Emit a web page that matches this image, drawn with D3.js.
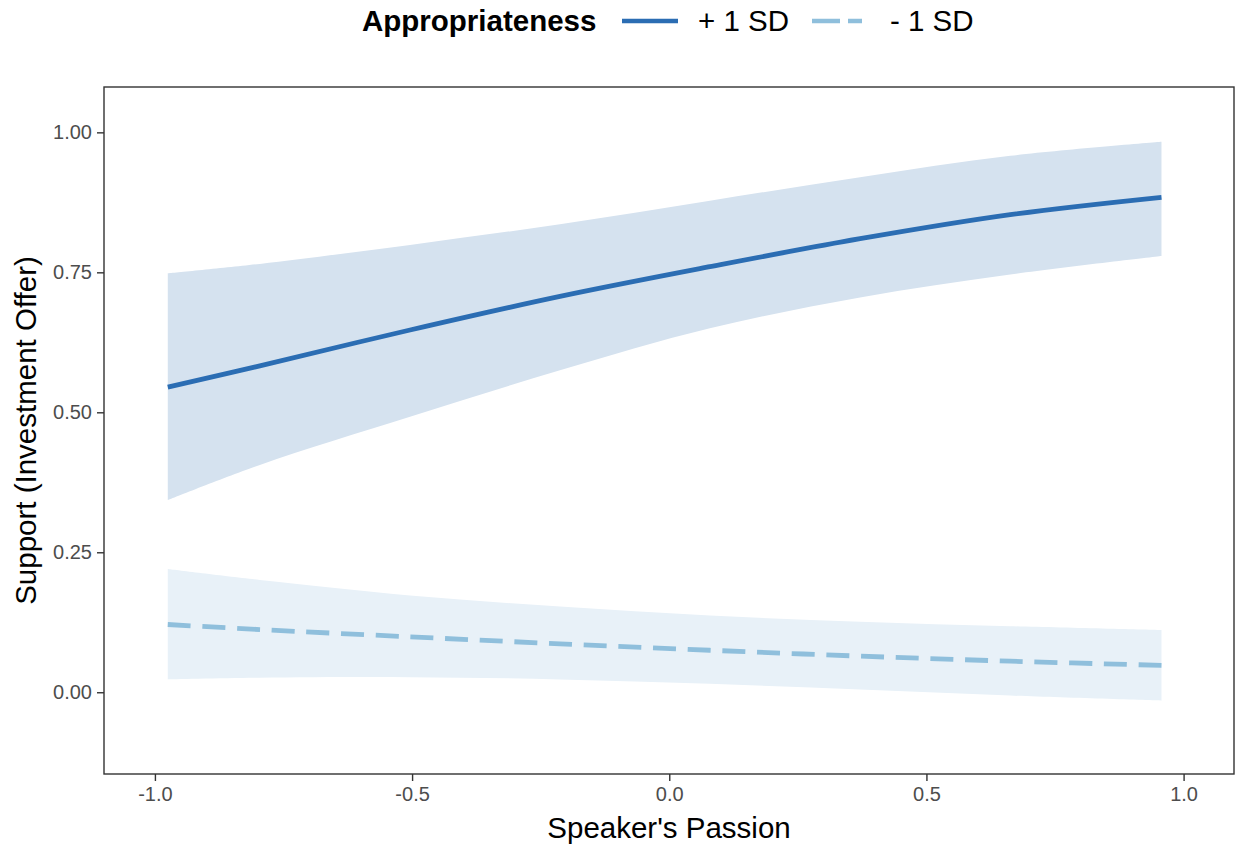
<!DOCTYPE html>
<html>
<head>
<meta charset="utf-8">
<script src="https://cdn.jsdelivr.net/npm/d3@7"></script>
<style>
  html, body { margin: 0; padding: 0; background: #ffffff; }
  svg { display: block; font-family: "Liberation Sans", Arial, sans-serif; }
</style>
</head>
<body>
<svg id="chart" width="1238" height="846"></svg>
<script>
// Speaker's passion values at which predictions were read
const passion = [-0.975, -0.796, -0.504, -0.2125, 0.079, 0.371, 0.663, 0.957];

// + 1 SD appropriateness: predicted support with confidence band
const highFit   = [0.545, 0.583, 0.647, 0.707, 0.760, 0.810, 0.853, 0.884];
const highLower = [0.343, 0.406, 0.492, 0.575, 0.650, 0.705, 0.746, 0.779];
const highUpper = [0.748, 0.765, 0.799, 0.836, 0.878, 0.920, 0.958, 0.983];

// - 1 SD appropriateness: predicted support with confidence band
const lowFit   = [0.121, 0.112, 0.099, 0.0865, 0.075, 0.0645, 0.0555, 0.048];
const lowLower = [0.023, 0.026, 0.027, 0.023, 0.015, 0.005, -0.006, -0.015];
const lowUpper = [0.220, 0.2005, 0.173, 0.153, 0.137, 0.126, 0.118, 0.111];

const xTicks = [-1.0, -0.5, 0.0, 0.5, 1.0];
const yTicks = [0.00, 0.25, 0.50, 0.75, 1.00];

const seriesNames = ["+ 1 SD", "- 1 SD"];
const legendTitle = "Appropriateness";
const xTitle = "Speaker's Passion";
const yTitle = "Support (Investment Offer)";

const svg = d3.select("#chart");
const panel = { left: 104, right: 1234, top: 87, bottom: 774 };

const x = d3.scaleLinear().domain([-1.099, 1.098]).range([panel.left, panel.right]);
const y = d3.scaleLinear().domain([-0.146, 1.081]).range([panel.bottom, panel.top]);

const series = [
  { name: seriesNames[0], fit: highFit, lo: highLower, hi: highUpper,
    line: "#2b6db3", band: "#d5e2ef", dash: null },
  { name: seriesNames[1], fit: lowFit, lo: lowLower, hi: lowUpper,
    line: "#8fbfdc", band: "#e8f1f8", dash: "23 11.7" }
];

const curve = d3.curveCatmullRom.alpha(0.5);
const area = d3.area().curve(curve)
  .x(d => x(d.x)).y0(d => y(d.lo)).y1(d => y(d.hi));
const line = d3.line().curve(curve)
  .x(d => x(d.x)).y(d => y(d.v));

const plot = svg.append("g");

// confidence bands (drawn first so lines sit on top)
series.slice().reverse().forEach(s => {
  const pts = passion.map((p, i) => ({ x: p, lo: s.lo[i], hi: s.hi[i] }));
  plot.append("path").attr("d", area(pts)).attr("fill", s.band);
});

series.slice().reverse().forEach(s => {
  const pts = passion.map((p, i) => ({ x: p, v: s.fit[i] }));
  plot.append("path").attr("d", line(pts))
    .attr("fill", "none")
    .attr("stroke", s.line)
    .attr("stroke-width", 4.8)
    .attr("stroke-dasharray", s.dash);
});

// panel border
svg.append("rect")
  .attr("x", panel.left).attr("y", panel.top)
  .attr("width", panel.right - panel.left).attr("height", panel.bottom - panel.top)
  .attr("fill", "none").attr("stroke", "#333333").attr("stroke-width", 1.4);

// tick labels use a plain hyphen for negatives
const hyphen = f => v => f(v).replace("\u2212", "-");

const xAxis = svg.append("g")
  .attr("transform", `translate(0,${panel.bottom})`)
  .call(d3.axisBottom(x).tickValues(xTicks).tickFormat(hyphen(d3.format(".1f")))
    .tickSizeInner(7).tickSizeOuter(0).tickPadding(6));
const yAxis = svg.append("g")
  .attr("transform", `translate(${panel.left},0)`)
  .call(d3.axisLeft(y).tickValues(yTicks).tickFormat(hyphen(d3.format(".2f")))
    .tickSizeInner(7).tickSizeOuter(0).tickPadding(5));

[xAxis, yAxis].forEach(a => {
  a.select(".domain").remove();
  a.selectAll(".tick line").attr("stroke", "#333333").attr("stroke-width", 1.4);
  a.selectAll(".tick text")
    .attr("fill", "#4d4d4d")
    .style("font-size", "20px")
    .style("font-family", "'Liberation Sans', Arial, sans-serif");
});
xAxis.selectAll(".tick text").attr("dy", "0.71em");

// axis titles
svg.append("text")
  .attr("x", (panel.left + panel.right) / 2).attr("y", 838)
  .attr("text-anchor", "middle")
  .style("font-size", "29.5px").attr("fill", "#000")
  .text(xTitle);

svg.append("text")
  .attr("transform", `translate(36,${(panel.top + panel.bottom) / 2}) rotate(-90)`)
  .attr("text-anchor", "middle")
  .style("font-size", "29.5px").attr("fill", "#000")
  .text(yTitle);

// legend
const legend = svg.append("g");
legend.append("text")
  .attr("x", 362).attr("y", 31)
  .style("font-size", "29.5px").style("font-weight", "bold").attr("fill", "#000")
  .text(legendTitle);

const keys = [
  { x0: 622, x1: 678, tx: 698, dash: null },
  { x0: 812, x1: 862, tx: 890, dash: "28 8" }
];
series.forEach((s, i) => {
  const k = keys[i];
  legend.append("line")
    .attr("x1", k.x0).attr("x2", k.x1).attr("y1", 21).attr("y2", 21)
    .attr("stroke", s.line).attr("stroke-width", 4.5)
    .attr("stroke-dasharray", k.dash);
  legend.append("text")
    .attr("x", k.tx).attr("y", 31)
    .style("font-size", "29.5px").attr("fill", "#000")
    .text(s.name);
});
</script>
</body>
</html>
